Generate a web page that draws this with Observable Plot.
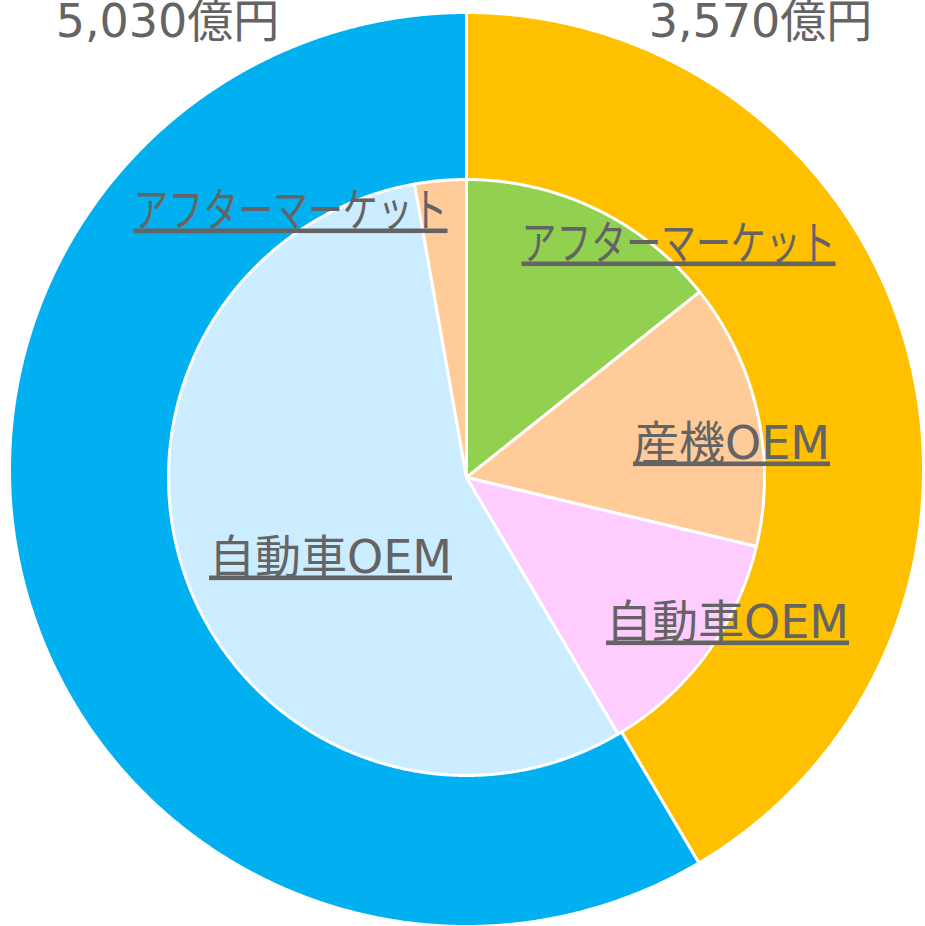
<!DOCTYPE html>
<html><head><meta charset="utf-8">
<script src="https://cdn.jsdelivr.net/npm/d3@7"></script>
<script src="https://cdn.jsdelivr.net/npm/@observablehq/plot@0.6"></script>
<style>body{margin:0;background:#fff;} #chart svg{display:block;}</style>
</head><body><div id="chart"></div>
<script>
// ---- data ----
const outerNames = ["3,570億円", "5,030億円"];
const outerValues = [3570, 5030];
const innerNames = ["アフターマーケット", "産機OEM", "自動車OEM", "自動車OEM", "アフターマーケット"];
const innerValues = [1230, 1240, 1100, 4790, 240];

// ---- styles ----
const outerColors = ["#FFC000", "#00B0F0"];
const innerColors = ["#92D050", "#FFCC99", "#FFCCFF", "#CCECFF", "#FFCC99"];
const textColor = "#646464";
const font = "'DejaVu Sans', 'Noto Sans CJK JP', sans-serif";

// ---- layout (chart units = px, origin at pie centre, y up) ----
const W = 925, H = 926;
const CX = 466, CY = 477;
const outerRing = {cx: 0, cy: 8, r: 457};
const innerPie = {cx: 0, cy: 0, r: 298};
const outerLabelPos = [[294, 441], [-299, 441]];
const innerLabelPos = [[212, 219], [265, 19], [261, -160], [-136, -95], [-176, 252]];
const kanaWidth = 314;

function slices(values, colors, geom, prefix) {
  const arcs = d3.pie().sort(null).value(d => d)(values);
  const pts = [];
  arcs.forEach((a, i) => {
    const key = prefix + i;
    pts.push({key, x: geom.cx, y: geom.cy, fill: colors[i]});
    const n = Math.max(2, Math.ceil((a.endAngle - a.startAngle) / 0.004));
    for (let k = 0; k <= n; k++) {
      const t = a.startAngle + (a.endAngle - a.startAngle) * k / n;
      pts.push({key, x: geom.cx + geom.r * Math.sin(t), y: geom.cy + geom.r * Math.cos(t), fill: colors[i]});
    }
  });
  return pts;
}

const outerPts = slices(outerValues, outerColors, outerRing, "o");
const innerPts = slices(innerValues, innerColors, innerPie, "i");
const outerText = outerNames.map((t, i) => ({text: t, x: outerLabelPos[i][0], y: outerLabelPos[i][1]}));
const innerText = innerNames.map((t, i) => ({text: t, x: innerLabelPos[i][0], y: innerLabelPos[i][1]}));

const plot = Plot.plot({
  width: W, height: H, margin: 0,
  x: {domain: [-CX, W - CX], axis: null},
  y: {domain: [CY - H, CY], axis: null},
  color: {type: "identity"},
  style: {background: "white"},
  marks: [
    Plot.line(outerPts, {x: "x", y: "y", z: "key", fill: "fill", stroke: "white", strokeWidth: 3, strokeLinejoin: "round", curve: "linear-closed"}),
    Plot.line(innerPts, {x: "x", y: "y", z: "key", fill: "fill", stroke: "white", strokeWidth: 3, strokeLinejoin: "round", curve: "linear-closed"}),
    Plot.text(outerText, {x: "x", y: "y", text: "text", fontSize: 46, fontFamily: font, fill: textColor, textAnchor: "middle", lineAnchor: "bottom"}),
    Plot.text(innerText, {x: "x", y: "y", text: "text", fontSize: 46, fontFamily: font, fill: textColor, textAnchor: "middle", lineAnchor: "bottom"})
  ]
});

plot.querySelectorAll('text').forEach(t => {
  const s = t.textContent;
  if (!innerNames.includes(s)) return;
  t.setAttribute("text-decoration", "underline");
  t.style.textDecoration = "underline";
  t.style.textDecorationThickness = "2.5px";
  if (/^[\u30A0-\u30FF]+$/.test(s)) {
    t.setAttribute("textLength", kanaWidth);
    t.setAttribute("lengthAdjust", "spacingAndGlyphs");
  }
});

document.getElementById("chart").appendChild(plot);
</script>
</body></html>
